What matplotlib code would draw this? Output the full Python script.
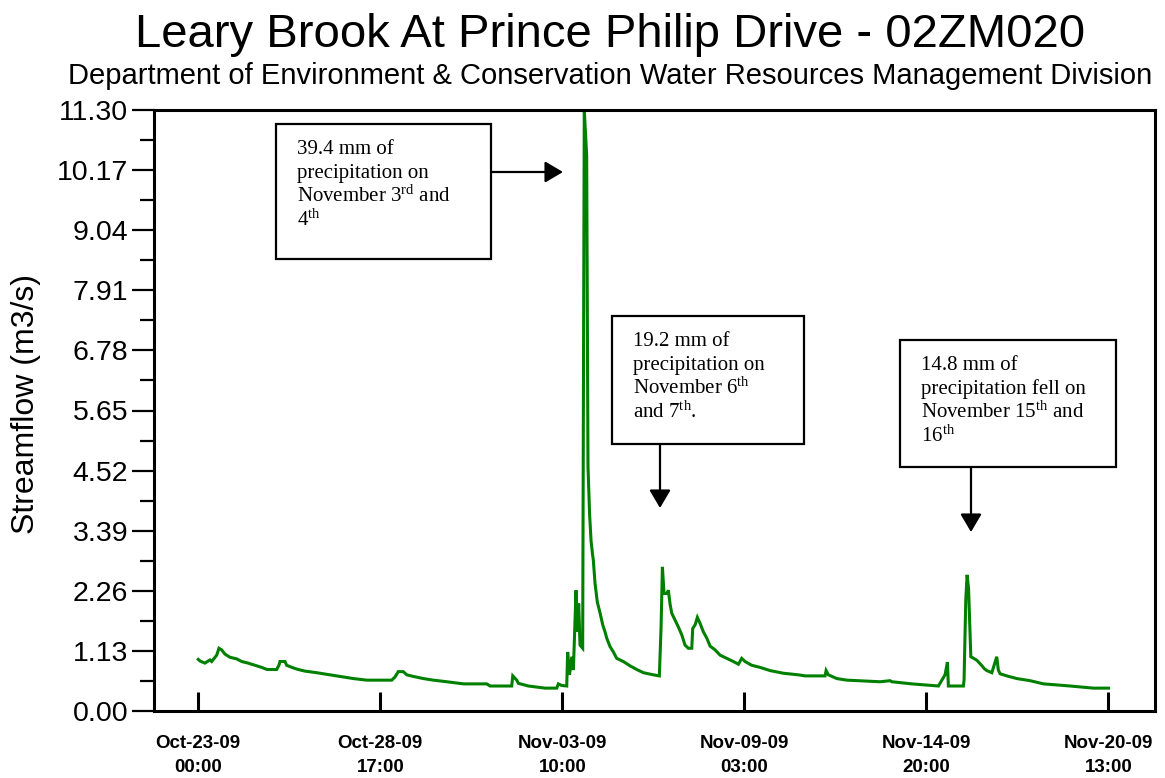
import numpy as np
import pandas as pd
import matplotlib
matplotlib.use("Agg")
import matplotlib.pyplot as plt
from matplotlib.patches import Rectangle, FancyArrowPatch

plt.rcParams["font.family"] = ["Liberation Sans", "DejaVu Sans"]
plt.rcParams["mathtext.fontset"] = "custom"
plt.rcParams["mathtext.rm"] = "Liberation Serif"
plt.rcParams["mathtext.it"] = "Liberation Serif:italic"
plt.rcParams["mathtext.bf"] = "Liberation Serif:bold"

# ---- data -------------------------------------------------------------
START = np.datetime64("2009-10-23T00:00")

# hours after the start of the record
hours = [
    0.0, 1.3, 5.0, 8.8, 10.1, 13.9, 15.6, 17.6, 20.1, 23.9, 28.9, 32.7, 37.6,
    42.7, 47.7, 51.9, 59.0, 60.7, 61.5, 65.3, 66.5, 71.5, 75.3, 80.3, 89.1,
    96.6, 106.7, 116.7, 126.8, 145.6, 148.1, 150.5, 154.3, 156.9, 161.8,
    169.4, 176.9, 187.0, 199.5, 217.1, 219.6, 235.9, 236.7, 239.7, 240.9,
    248.4, 261.0, 269.8, 271.0, 273.5, 277.3, 278.0, 279.4, 281.1, 282.3,
    284.3, 285.3, 286.3, 287.3, 289.3, 290.5, 292.3, 293.3, 294.5, 295.6,
    296.7, 297.3, 298.6, 300.3, 302.4, 304.4, 306.1, 307.4, 309.9, 312.4,
    314.9, 319.9, 324.9, 330.0, 335.0, 342.5, 347.0, 348.3, 349.3, 350.5,
    352.6, 353.8, 355.0, 356.3, 358.8, 361.3, 363.9, 366.3, 368.8, 371.4,
    372.1, 373.9, 375.6, 377.6, 380.1, 382.7, 385.2, 388.9, 392.7, 397.7,
    402.7, 406.5, 409.0, 411.5, 416.5, 422.8, 430.3, 440.3, 451.6, 456.7,
    471.7, 472.5, 474.2, 480.5, 488.1, 513.1, 520.6, 522.0, 537.0, 557.0,
    562.0, 563.8, 564.5, 575.8, 576.3, 577.6, 578.6, 579.7, 580.9, 581.4,
    583.6, 586.1, 588.0, 589.8, 591.4, 593.4, 597.2, 600.9, 602.1, 603.4,
    608.5, 616.0, 626.0, 636.1, 656.1, 673.7, 685.0,
]

# streamflow, m3/s
flow = [
    0.97, 0.94, 0.90, 0.96, 0.93, 1.05, 1.18, 1.15, 1.07, 1.01, 0.98, 0.93, 0.90,
    0.86, 0.82, 0.78, 0.78, 0.86, 0.93, 0.93, 0.86, 0.81, 0.78, 0.75, 0.72,
    0.69, 0.65, 0.61, 0.58, 0.58, 0.64, 0.74, 0.74, 0.68, 0.65,
    0.61, 0.58, 0.55, 0.51, 0.51, 0.47, 0.47, 0.66, 0.58, 0.52,
    0.47, 0.43, 0.43, 0.51, 0.48, 0.47, 1.11, 0.68, 1.02, 0.77,
    2.27, 1.49, 2.02, 1.24, 1.18, 11.30, 10.45, 4.60, 3.70, 3.20,
    2.95, 2.84, 2.40, 2.05, 1.84, 1.62, 1.49, 1.37, 1.21, 1.11,
    0.99, 0.93, 0.85, 0.78, 0.72, 0.68, 0.66, 1.58, 2.71, 2.21,
    2.21, 2.27, 2.02, 1.84, 1.71, 1.58, 1.43, 1.24, 1.18, 1.18,
    1.55, 1.62, 1.76, 1.65, 1.49, 1.37, 1.22, 1.15, 1.05, 0.99,
    0.93, 0.88, 0.99, 0.93, 0.86, 0.82, 0.76, 0.71, 0.68, 0.66,
    0.66, 0.76, 0.68, 0.61, 0.58, 0.55, 0.57, 0.55, 0.51, 0.47,
    0.68, 0.92, 0.47, 0.47, 0.58, 2.09, 2.56, 2.30, 1.43, 1.02,
    0.99, 0.95, 0.90, 0.85, 0.80, 0.76, 0.72, 1.02, 0.77, 0.70,
    0.66, 0.61, 0.57, 0.51, 0.47, 0.43, 0.43,
]

tick_hours = [0, 137, 274, 411, 548, 685]
y_ticks = [0.00, 1.13, 2.26, 3.39, 4.52, 5.65, 6.78, 7.91, 9.04, 10.17, 11.30]

title = "Leary Brook At Prince Philip Drive - 02ZM020"
subtitle = ("Department of Environment & Conservation "
            "Water Resources Management Division")
y_label = "Streamflow (m3/s)"

notes = [
    ["39.4 mm of", "precipitation on",
     "November 3$^{\\mathrm{rd}}$ and", "4$^{\\mathrm{th}}$"],
    ["19.2 mm of", "precipitation on",
     "November 6$^{\\mathrm{th}}$", "and 7$^{\\mathrm{th}}$."],
    ["14.8 mm of", "precipitation fell on",
     "November 15$^{\\mathrm{th}}$ and", "16$^{\\mathrm{th}}$"],
]


def to_time(h):
    return START + (np.asarray(h, dtype=float) * 60).round().astype("timedelta64[m]")


times = to_time(hours)
tick_times = to_time(tick_hours)
tick_labels = [pd.Timestamp(t).strftime("%b-%d-%y\n%H:%M") for t in tick_times]

# ---- figure -----------------------------------------------------------
W, H = 1165, 778
fig = plt.figure(figsize=(W / 100, H / 100), dpi=100)


def fx(x):
    return x / W


def fy(y):
    return 1 - y / H


AX_L, AX_R, AX_T, AX_B = 154, 1155, 110, 711
ax = fig.add_axes([fx(AX_L), fy(AX_B), fx(AX_R) - fx(AX_L), fy(AX_T) - fy(AX_B)])

ax.plot(times, flow, color="#008000", lw=2.2, solid_joinstyle="miter")

ax.set_ylim(0, 11.30)
ax.set_xlim(to_time(-33.3), to_time(720.0))

ax.set_yticks(y_ticks)
ax.set_yticklabels([f"{v:.2f}" for v in y_ticks])
ax.set_yticks([(a + b) / 2 for a, b in zip(y_ticks[:-1], y_ticks[1:])], minor=True)
ax.tick_params(axis="y", which="major", direction="out", length=16, width=1.6,
               pad=2.5, labelsize=20.5, colors="black")
ax.tick_params(axis="y", which="minor", direction="out", length=10, width=1.6)

ax.set_xticks(tick_times)
ax.set_xticklabels(tick_labels)
ax.tick_params(axis="x", which="major", direction="in", length=14, width=2.2,
               pad=17, labelsize=13.5)
for lbl in ax.get_xticklabels():
    lbl.set_fontweight("bold")
    lbl.set_linespacing(1.55)

for s in ax.spines.values():
    s.set_linewidth(2.2)

# y label: right edge of the rotated text near x=41, centred at y=404
ax.set_ylabel(y_label, fontsize=23)
ax.yaxis.set_label_coords((41 - AX_L) / (AX_R - AX_L), (AX_B - 404) / (AX_B - AX_T))

fig.text(fx(610), fy(47), title, ha="center", va="baseline", fontsize=34)
fig.text(fx(610), fy(84), subtitle, ha="center", va="baseline", fontsize=21)

# ---- annotation boxes -------------------------------------------------
boxes = [(276, 124, 491, 259), (612, 316, 804, 444), (900, 340, 1116, 467)]
arrows = [((491, 172), (563, 172)),
          ((660, 444), (660, 508)),
          ((971, 467), (971, 532))]

for (x0, y0, x1, y1), lines in zip(boxes, notes):
    fig.add_artist(Rectangle((fx(x0), fy(y1)), fx(x1) - fx(x0), fy(y0) - fy(y1),
                             transform=fig.transFigure, fill=False,
                             edgecolor="black", lw=1.6))
    for i, line in enumerate(lines):
        fig.text(fx(x0 + 21), fy(y0 + 30 + 24 * i), line, ha="left",
                 va="baseline", fontsize=15, family="Liberation Serif")

for (sx, sy), (ex, ey) in arrows:
    fig.add_artist(FancyArrowPatch(
        (fx(sx), fy(sy)), (fx(ex), fy(ey)), transform=fig.transFigure,
        arrowstyle="-|>,head_length=11,head_width=6.5", mutation_scale=1,
        color="black", lw=1.6, shrinkA=0, shrinkB=0))

fig.savefig("out.png", dpi=100)
